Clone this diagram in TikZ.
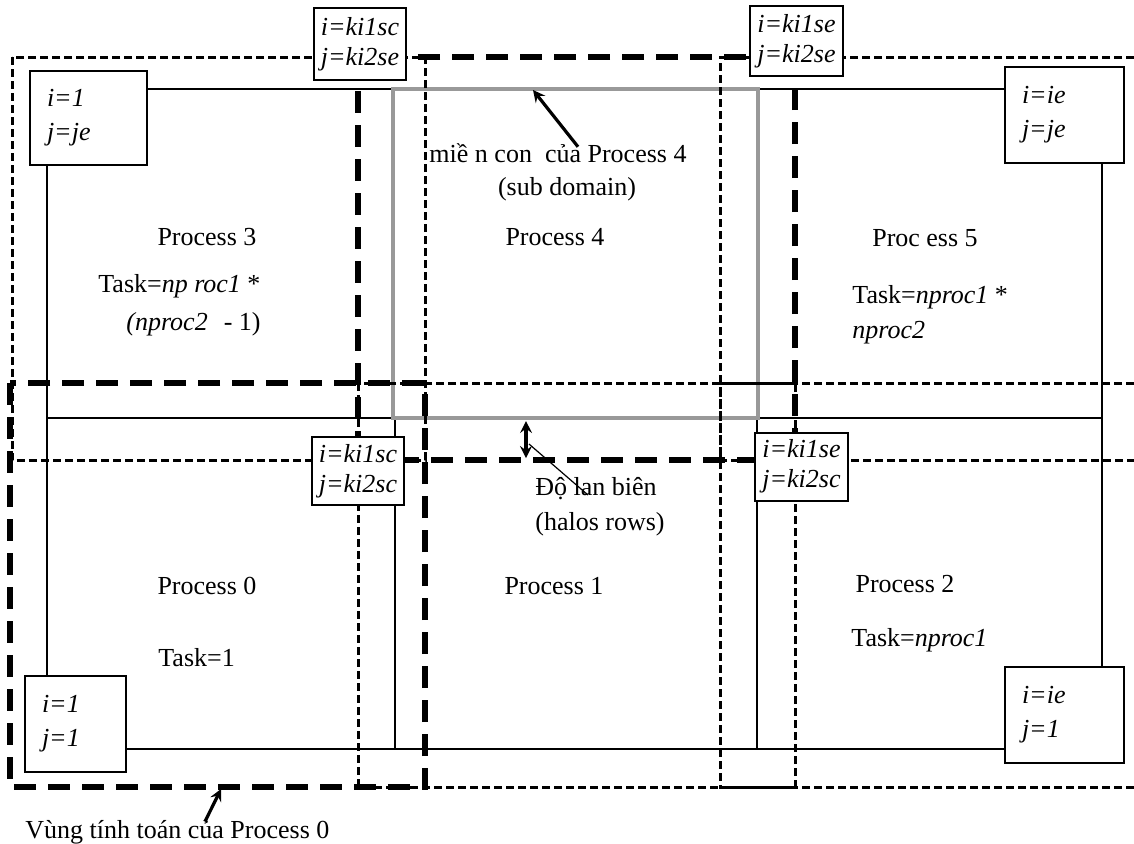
\documentclass[tikz,border=0pt]{standalone}
\usepackage{fontspec}
\setmainfont{Liberation Serif}
\usetikzlibrary{positioning}
\newcommand{\lblfont}{\fontsize{13}{16}\selectfont}
\tikzset{>=stealth, % arrow heads of the pointers
lbl/.style={inner sep=0pt}, % plain text labels
corner/.style={draw, fill=white, line width=1pt, align=left, inner xsep=8.5pt, font=\lblfont\itshape}, % index boxes at the domain corners
halo/.style={draw, fill=white, line width=1pt, align=center, inner sep=3.5pt, font=\lblfont\itshape}, % index boxes at the region corners
fine/.style={dash pattern=on 4pt off 2pt, line width=1.5pt}, % computing region of a process
coarse/.style={dash pattern=on 11pt off 6pt, line width=2.6pt}, % highlighted computing region
grid/.style={line width=0.7pt}, % lines of the domain
pointer/.style={->, line width=1.6pt}, % arrows to the annotations
}

\begin{document}
\begin{tikzpicture}[x=0.5pt, y=-0.5pt, font=\lblfont]
\useasboundingbox (0,0) rectangle (1134,843);
% domain split into sub domains
\coordinate (nw) at (47,89);
\coordinate (se) at (1102,749);
\draw[grid] (nw) rectangle (se);
\draw[grid] (47,418) -- (1102,418) (395,418) -- (395,749) (757,418) -- (757,749);
% sub domain of process 4
\draw[gray!80, line width=1.8pt] (393,89) rectangle (758,418);
% computing regions
\draw[fine] (12,57) rectangle (425,460); % process 3
\draw[fine] (358,383) rectangle (795,787); % process 1
\draw[fine] (1134,57) -- (720,57) -- (720,460) -- (1134,460); % process 5
\draw[fine] (1134,383) -- (720,383) -- (720,787) -- (1134,787); % process 2
\draw[coarse] (358,57) rectangle (795,460); % process 4
\draw[coarse] (10,383) rectangle (425,787); % process 0
% index boxes
\node[corner, text width=41.5pt, minimum height=47pt] (b1je) at (88.5,118) {i=1\\[1pt]j=je};
\node[corner, text width=42.5pt, minimum height=48pt] (bieje) at (1064.5,115) {i=ie\\[1pt]j=je};
\node[corner, text width=33.5pt, minimum height=48pt] (b11) at (75.5,724) {i=1\\[1pt]j=1};
\node[corner, text width=42.5pt, minimum height=48pt] (bie1) at (1064.5,715) {i=ie\\[1pt]j=1};
\node[halo, minimum height=36pt] (hscse) at (360,44) {i=ki1sc\\[-1pt]j=ki2se};
\node[halo, minimum height=35pt] (hsese) at (796.5,41) {i=ki1se\\[-1pt]j=ki2se};
\node[halo, minimum height=34pt] (hscsc) at (358,471) {i=ki1sc\\[-1pt]j=ki2sc};
\node[halo, minimum height=34pt] (hsesc) at (801.5,466.5) {i=ki1se\\[-1pt]j=ki2sc};
% process labels
\node[lbl, anchor=base] (p3) at (207,245) {Process 3};
\node[lbl, anchor=base] (p4) at (555,245) {Process 4};
\node[lbl, anchor=base] (p5) at (925,246) {Proc ess 5};
\node[lbl, anchor=base] (p0) at (207,594) {Process 0};
\node[lbl, anchor=base] (p1) at (554,594) {Process 1};
\node[lbl, anchor=base] (p2) at (905,592) {Process 2};
\node[lbl, anchor=base west] (t3) at (98,292) {Task=\textit{np roc1} *};
\node[lbl, anchor=base west] (t3b) at (126,330) {\textit{(nproc2}\hspace{8pt}- 1)};
\node[lbl, anchor=base west] (t5) at (852,303) {Task=\textit{nproc1} *};
\node[lbl, anchor=base west] (t5b) at (852,338) {\textit{nproc2}};
\node[lbl, anchor=base west] (t0) at (158,666) {Task=1};
\node[lbl, anchor=base west] (t2) at (851,646) {Task=\textit{nproc1}};
% annotations
\node[lbl, anchor=base] (sub4) at (558,162) {miề n con \ của Process 4};
\node[lbl, anchor=base] (sub4b) at (567,195) {(sub domain)};
\node[lbl, anchor=base west] (halo) at (535,495) {Độ lan biên};
\node[lbl, anchor=base west] (halob) at (535,530) {(halos rows)};
\node[lbl, anchor=base west] (reg) at (25,838) {Vùng tính toán của Process 0};
\coordinate (subtop) at (533,90);
\coordinate (hs) at (526,421);
\coordinate (he) at (526,458);
\coordinate (hm) at (529,444);
\coordinate (reg0) at (221,789);
\draw[pointer] ([xshift=10pt,yshift=-2pt]sub4.north) -- (subtop);
\draw[<->, line width=1.6pt] (hs) -- (he);
\draw[line width=0.6pt] (hm) -- ([xshift=26.5pt]halo.base west);
\draw[pointer] ([xshift=90pt,yshift=-1pt]reg.north west) -- (reg0);
\end{tikzpicture}
\end{document}
